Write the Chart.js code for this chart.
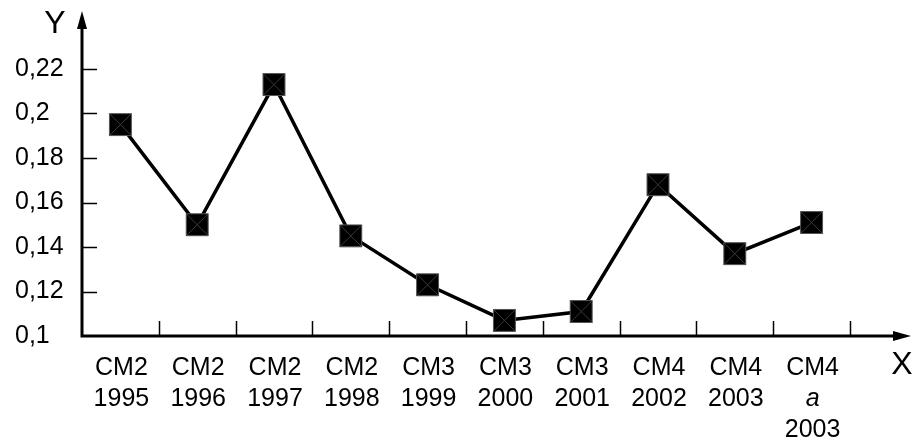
<!DOCTYPE html>
<html lang="ru">
<head>
    <meta charset="UTF-8">
    <title>Y by model and year</title>
    <script src="https://cdn.jsdelivr.net/npm/chart.js"></script>
    <style>
        html, body { margin: 0; padding: 0; background: #fff; }
        canvas { display: block; }
    </style>
</head>
<body>
    <canvas id="chart" width="914" height="441"></canvas>

    <script>
        // Categories: each entry is the stacked lines of one x label
        const categories = [
            ['CM2', '1995'], ['CM2', '1996'], ['CM2', '1997'], ['CM2', '1998'],
            ['CM3', '1999'], ['CM3', '2000'], ['CM3', '2001'],
            ['CM4', '2002'], ['CM4', '2003'], ['CM4', 'a', '2003']
        ];
        const values = [0.195, 0.150, 0.213, 0.145, 0.123, 0.107, 0.111, 0.168, 0.137, 0.151];
        const yTicks = [0.1, 0.12, 0.14, 0.16, 0.18, 0.2, 0.22];
        const italicLines = ['a'];

        const FONT = '"Liberation Sans", Arial, sans-serif';

        // Draws the axes with arrows, inward tick marks, the x labels and axis names
        const axesPlugin = {
            id: 'axes',
            beforeDatasetsDraw(chart) {
                const ctx = chart.ctx;
                const x = chart.scales.x, y = chart.scales.y;
                const left = chart.chartArea.left, bottom = chart.chartArea.bottom;
                ctx.save();
                ctx.strokeStyle = '#000';
                ctx.fillStyle = '#000';

                // tick marks
                ctx.lineWidth = 1.5;
                ctx.beginPath();
                y.ticks.forEach(t => {
                    const py = Math.round(y.getPixelForValue(t.value)) + 0.5;
                    if (t.value === y.min) return;
                    ctx.moveTo(left, py);
                    ctx.lineTo(left + 15, py);
                });
                const step = x.getPixelForValue(1) - x.getPixelForValue(0);
                categories.forEach((c, i) => {
                    const px = Math.round(x.getPixelForValue(i) + step / 2) + 0.5;
                    ctx.moveTo(px, bottom);
                    ctx.lineTo(px, bottom - 15);
                });
                ctx.stroke();

                // axis lines
                ctx.lineWidth = 3;
                ctx.beginPath();
                ctx.moveTo(left, 26);
                ctx.lineTo(left, bottom);
                ctx.lineTo(894, bottom);
                ctx.stroke();

                // arrow heads
                ctx.beginPath();
                ctx.moveTo(left, 11);
                ctx.lineTo(left - 5, 29);
                ctx.lineTo(left + 5, 29);
                ctx.closePath();
                ctx.fill();
                ctx.beginPath();
                ctx.moveTo(911, bottom);
                ctx.lineTo(893, bottom - 5);
                ctx.lineTo(893, bottom + 5);
                ctx.closePath();
                ctx.fill();

                // category labels
                ctx.textAlign = 'center';
                ctx.textBaseline = 'alphabetic';
                categories.forEach((lines, i) => {
                    const px = x.getPixelForValue(i) + 1;
                    lines.forEach((line, j) => {
                        const italic = italicLines.includes(line) ? 'italic ' : '';
                        ctx.font = italic + '25px ' + FONT;
                        ctx.fillText(line, px, bottom + 39 + j * 31);
                    });
                });

                // axis names
                ctx.font = '32px ' + FONT;
                ctx.fillText('Y', 55, 33);
                ctx.fillText('X', 902, 374);
                ctx.restore();
            }
        };

        new Chart(document.getElementById('chart'), {
            type: 'line',
            data: {
                labels: categories,
                datasets: [
                    {
                        // thin diagonals inside each square marker
                        data: values,
                        showLine: false,
                        pointStyle: 'crossRot',
                        pointRadius: 15.5,
                        pointBorderColor: '#3a3a3a',
                        pointBorderWidth: 1,
                        order: 0
                    },
                    {
                        data: values,
                        borderColor: '#000',
                        borderWidth: 3.5,
                        tension: 0,
                        pointStyle: 'rect',
                        pointRadius: 15.5,
                        pointBackgroundColor: '#000',
                        pointBorderColor: '#555',
                        pointBorderWidth: 1,
                        order: 1
                    }
                ]
            },
            options: {
                responsive: false,
                animation: false,
                events: [],
                layout: { padding: { left: 15, right: 64, top: 24.5, bottom: 0 } },
                plugins: { legend: { display: false }, tooltip: { enabled: false } },
                scales: {
                    x: {
                        type: 'category',
                        offset: true,
                        grid: { display: false },
                        border: { display: false },
                        ticks: { display: false },
                        afterFit: s => { s.height = 105; }
                    },
                    y: {
                        min: 0.1,
                        max: 0.24,
                        grid: { display: false },
                        border: { display: false },
                        afterBuildTicks: s => { s.ticks = yTicks.map(v => ({ value: v })); },
                        afterFit: s => { s.width = 67; },
                        ticks: {
                            crossAlign: 'far',
                            color: '#000',
                            font: { family: FONT, size: 25 },
                            callback: v => String(Math.round(v * 100) / 100).replace('.', ',')
                        }
                    }
                }
            },
            plugins: [axesPlugin]
        });
    </script>
</body>
</html>
